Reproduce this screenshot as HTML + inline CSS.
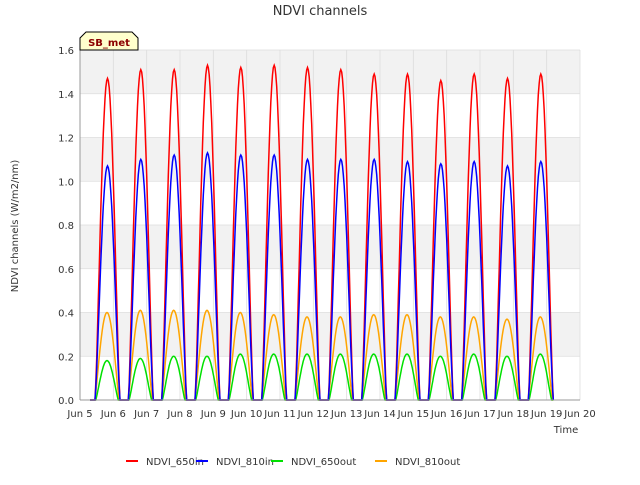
<!DOCTYPE html>
<html><head><meta charset="utf-8"><style>
body{margin:0;background:#fff;font-family:"Liberation Sans","DejaVu Sans",sans-serif}
svg text{font-family:"DejaVu Sans","Liberation Sans",sans-serif;fill:#333}
</style></head><body>
<svg id="c" width="640" height="480">
<rect width="640" height="480" fill="#fff"/>
<g id="bands"></g><g id="grid"></g>
<g id="series"></g>
<g id="axes"></g>
<text x="320" y="15" text-anchor="middle" font-size="13">NDVI channels</text>
<text transform="translate(18,226) rotate(-90)" text-anchor="middle" font-size="10">NDVI channels (W/m2/nm)</text>
<text x="566" y="433" text-anchor="middle" font-size="10">Time</text>
<g>
<path d="M80,50 L80,38 L86,32 L132,32 L138,38 L138,50 Z" fill="#ffffcc" stroke="#000" stroke-width="1"/>
<text x="109" y="46" text-anchor="middle" font-size="10" font-weight="bold" style="fill:#8b0000">SB_met</text></g>
<g id="legend"></g>
</svg>
<script>
const days=["Jun 5","Jun 6","Jun 7","Jun 8","Jun 9","Jun 10","Jun 11","Jun 12","Jun 13","Jun 14","Jun 15","Jun 16","Jun 17","Jun 18","Jun 19","Jun 20"];
const yTicks=[0,0.2,0.4,0.6,0.8,1.0,1.2,1.4,1.6];
const red=[1.47,1.51,1.51,1.53,1.52,1.53,1.52,1.51,1.49,1.49,1.46,1.49,1.47,1.49];
const blue=[1.07,1.10,1.12,1.13,1.12,1.12,1.10,1.10,1.10,1.09,1.08,1.09,1.07,1.09];
const green=[0.18,0.19,0.20,0.20,0.21,0.21,0.21,0.21,0.21,0.21,0.20,0.21,0.20,0.21];
const orange=[0.40,0.41,0.41,0.41,0.40,0.39,0.38,0.38,0.39,0.39,0.38,0.38,0.37,0.38];
const names=["NDVI_650in","NDVI_810in","NDVI_650out","NDVI_810out"];
const L=80,R=580,T=50,B=400;
const x=d=>L+(R-L)*d/15, y=v=>B-(B-T)*v/1.6;
const NS="http://www.w3.org/2000/svg";
function mk(t,a,p){const e=document.createElementNS(NS,t);for(const k in a)e.setAttribute(k,a[k]);p.appendChild(e);return e;}
const bands=document.getElementById('bands'),grid=document.getElementById('grid'),axes=document.getElementById('axes');
mk('rect',{x:L,y:T,width:R-L,height:B-T,fill:'#fff'},bands);
for(let i=0;i<yTicks.length-1;i++){ if(i%2==1){const r=mk('rect',{x:L,y:y(yTicks[i+1]),width:R-L,height:y(yTicks[i])-y(yTicks[i+1]),fill:'#f2f2f2'},bands);

}}
yTicks.forEach(v=>{mk('line',{x1:L,x2:R,y1:y(v),y2:y(v),stroke:'#ddd','stroke-width':0.8},grid);
const t=mk('text',{x:L-6,y:y(v)+4,'text-anchor':'end','font-size':10},axes);t.textContent=v.toFixed(1);

});
days.forEach((d,i)=>{mk('line',{x1:x(i),x2:x(i),y1:T,y2:B,stroke:'#ddd','stroke-width':0.8},grid);
const t=mk('text',{x:x(i),y:B+17,'text-anchor':'middle','font-size':10},axes);t.textContent=d;

});
mk('line',{x1:L,x2:L,y1:T,y2:B,stroke:'#999'},axes);mk('line',{x1:L,x2:R,y1:B,y2:B,stroke:'#999'},axes);
const ser=document.getElementById('series');
function draw(vals,color,pw,s0,s1,name){let pts=[[x(0.3),y(0)]];
vals.forEach((pk,i)=>{pts.push([x(i+s0),y(0)]);for(let k=0;k<=30;k++){const t=k/30;pts.push([x(i+s0+(s1-s0)*t),y(pk*Math.pow(Math.sin(Math.PI*t),pw))]);}});
pts.push([x(14.2),y(0)]);
const p=mk('polyline',{points:pts.map(p=>p[0].toFixed(1)+','+p[1].toFixed(1)).join(' '),fill:'none',stroke:color,'stroke-width':1.5},ser);

}
draw(orange,'orange',1.1,0.45,1.17,'series-ndvi-810out');
draw(green,'#00e000',1.2,0.47,1.15,'series-ndvi-650out');
draw(red,'red',1.3,0.45,1.2,'series-ndvi-650in');
draw(blue,'blue',1.3,0.45,1.2,'series-ndvi-810in');
const lg=document.getElementById('legend');const cols=['red','blue','#00e000','orange'];const lx=[126,196,271,375];
names.forEach((n,i)=>{const g=mk('g',{},lg);


mk('line',{x1:lx[i],x2:lx[i]+12,y1:461,y2:461,stroke:cols[i],'stroke-width':2},g);
const t=mk('text',{x:lx[i]+20,y:465,'font-size':10},g);t.textContent=n;});
</script>
</body></html>
